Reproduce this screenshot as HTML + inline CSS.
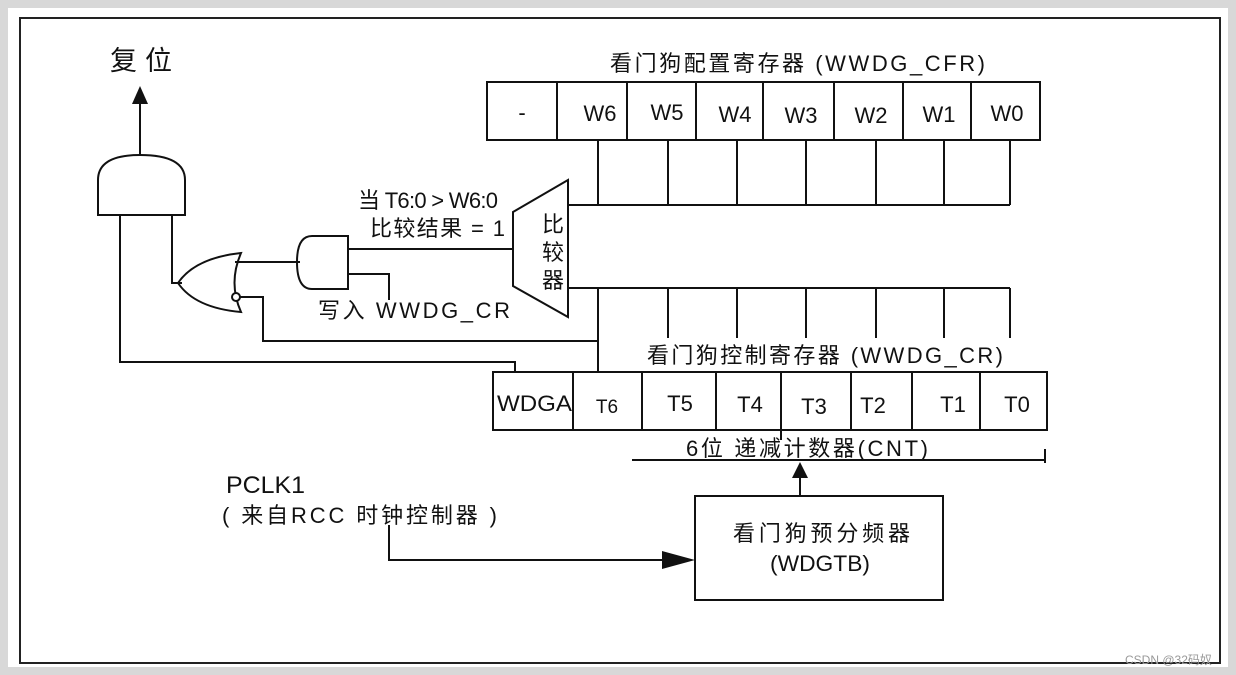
<!DOCTYPE html>
<html><head><meta charset="utf-8"><style>
html,body{margin:0;padding:0;background:#fff;}
svg{display:block;}
text{font-family:"Liberation Sans","Noto Sans CJK SC",sans-serif;fill:#111;}
</style></head><body>
<svg width="1236" height="675" viewBox="0 0 1236 675" xmlns="http://www.w3.org/2000/svg">
<rect x="0" y="0" width="1236" height="675" fill="#fff"/>
<rect x="4" y="4" width="1228" height="667" fill="none" stroke="#d8d8d8" stroke-width="8"/>
<rect x="20" y="18" width="1200" height="645" fill="#fff" stroke="#222" stroke-width="2"/>
<g stroke="#111" stroke-width="2" fill="none">
<line x1="140" y1="155" x2="140" y2="100"/>
<path d="M98,215 L98,180 Q98,155 140,155 Q185,155 185,180 L185,215 Z"/>
<polyline points="120,215 120,362 515,362 515,372"/>
<polyline points="172,215 172,283 182,283"/>
<path d="M178,283 Q195,258 241,253 Q228,283 241,312 Q195,308 178,283 Z"/>
<circle cx="236" cy="297" r="4" fill="#fff"/>
<line x1="235" y1="262" x2="300" y2="262"/>
<polyline points="240,297 263,297 263,341 598,341"/>
<path d="M348,236 L312,236 Q297,236 297,262 Q297,289 312,289 L348,289 Z"/>
<line x1="348" y1="249" x2="513" y2="249"/>
<polyline points="348,274 389,274 389,300"/>
<path d="M513,212 L568,180 L568,317 L513,286 Z"/>
<rect x="487" y="82" width="553" height="58"/>
<line x1="557" y1="82" x2="557" y2="140"/><line x1="627" y1="82" x2="627" y2="140"/>
<line x1="696" y1="82" x2="696" y2="140"/><line x1="763" y1="82" x2="763" y2="140"/>
<line x1="834" y1="82" x2="834" y2="140"/><line x1="903" y1="82" x2="903" y2="140"/>
<line x1="971" y1="82" x2="971" y2="140"/>
<line x1="568" y1="205" x2="1010" y2="205"/>
<line x1="598" y1="140" x2="598" y2="205"/><line x1="668" y1="140" x2="668" y2="205"/>
<line x1="737" y1="140" x2="737" y2="205"/><line x1="806" y1="140" x2="806" y2="205"/>
<line x1="876" y1="140" x2="876" y2="205"/><line x1="944" y1="140" x2="944" y2="205"/>
<line x1="1010" y1="140" x2="1010" y2="205"/>
<line x1="568" y1="288" x2="1010" y2="288"/>
<line x1="598" y1="288" x2="598" y2="372"/><line x1="668" y1="288" x2="668" y2="338"/>
<line x1="737" y1="288" x2="737" y2="338"/><line x1="806" y1="288" x2="806" y2="338"/>
<line x1="876" y1="288" x2="876" y2="338"/><line x1="944" y1="288" x2="944" y2="338"/>
<line x1="1010" y1="288" x2="1010" y2="338"/>
<rect x="493" y="372" width="554" height="58"/>
<line x1="573" y1="372" x2="573" y2="430"/><line x1="642" y1="372" x2="642" y2="430"/>
<line x1="716" y1="372" x2="716" y2="430"/><line x1="781" y1="372" x2="781" y2="440"/>
<line x1="851" y1="372" x2="851" y2="430"/><line x1="912" y1="372" x2="912" y2="430"/>
<line x1="980" y1="372" x2="980" y2="430"/>
<line x1="632" y1="460" x2="1045" y2="460"/><line x1="1045" y1="449" x2="1045" y2="463"/>
<rect x="695" y="496" width="248" height="104"/>
<line x1="800" y1="496" x2="800" y2="475"/>
<polyline points="389,525 389,560 665,560"/>
</g>
<g fill="#111">
<polygon points="140,86 132,104 148,104"/>
<polygon points="800,462 792,478 808,478"/>
<polygon points="695,560 662,551 662,569"/>
</g>
<g font-size="22">
<text x="110" y="70" font-size="27" textLength="62" lengthAdjust="spacing">复位</text>
<text x="610" y="71" textLength="375" lengthAdjust="spacing">看门狗配置寄存器 (WWDG_CFR)</text>
<text x="522" y="120" text-anchor="middle">-</text>
<text x="600" y="121" text-anchor="middle">W6</text>
<text x="667" y="120" text-anchor="middle">W5</text>
<text x="735" y="122" text-anchor="middle">W4</text>
<text x="801" y="123" text-anchor="middle">W3</text>
<text x="871" y="123" text-anchor="middle">W2</text>
<text x="939" y="122" text-anchor="middle">W1</text>
<text x="1007" y="121" text-anchor="middle">W0</text>
<text x="358" y="208" textLength="140" lengthAdjust="spacing">当 T6:0 &gt; W6:0</text>
<text x="370" y="236" textLength="135" lengthAdjust="spacing">比较结果 = 1</text>
<text x="553" y="232" text-anchor="middle">比</text>
<text x="553" y="260" text-anchor="middle">较</text>
<text x="553" y="288" text-anchor="middle">器</text>
<text x="318" y="318" textLength="192" lengthAdjust="spacing">写入 WWDG_CR</text>
<text x="647" y="363" textLength="356" lengthAdjust="spacing">看门狗控制寄存器 (WWDG_CR)</text>
<text x="497" y="411" textLength="75" lengthAdjust="spacingAndGlyphs">WDGA</text>
<text x="607" y="413" text-anchor="middle" font-size="19">T6</text>
<text x="680" y="411" text-anchor="middle">T5</text>
<text x="750" y="412" text-anchor="middle">T4</text>
<text x="814" y="414" text-anchor="middle">T3</text>
<text x="873" y="413" text-anchor="middle">T2</text>
<text x="953" y="412" text-anchor="middle">T1</text>
<text x="1017" y="412" text-anchor="middle">T0</text>
<text x="686" y="456" textLength="242" lengthAdjust="spacing">6位 递减计数器(CNT)</text>
<text x="226" y="493" font-size="24" textLength="79" lengthAdjust="spacingAndGlyphs">PCLK1</text>
<text x="222" y="523" textLength="275" lengthAdjust="spacing">( 来自RCC 时钟控制器 )</text>
<text x="733" y="541" textLength="177" lengthAdjust="spacing">看门狗预分频器</text>
<text x="770" y="571" textLength="100" lengthAdjust="spacingAndGlyphs">(WDGTB)</text>
</g>
<text x="1125" y="664" font-size="12" style="fill:#999">CSDN @32码奴</text>
</svg>
</body></html>
